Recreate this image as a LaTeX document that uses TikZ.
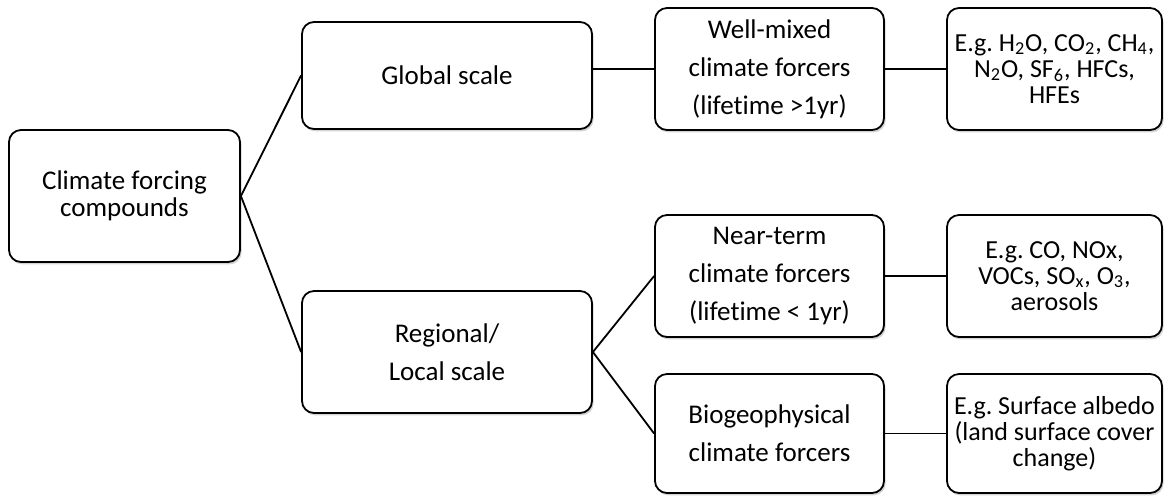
\documentclass[tikz,border=0pt]{standalone}
\usepackage{fontspec}
\setmainfont{Carlito}[Ligatures=NoCommon]
\usepackage{tikz}
\usetikzlibrary{shadows}

\begin{document}
\begin{tikzpicture}[x=0.5pt,y=-0.5pt,
		box/.style={draw, line width=0.9pt, rounded corners=6pt, fill=white, align=center,
			drop shadow={shadow xshift=0.8pt, shadow yshift=-1.2pt, opacity=0.35}, inner sep=2pt},
		wide/.style={font=\fontsize{13.5}{19}\selectfont},
		tight/.style={font=\fontsize{13.5}{13.5}\selectfont},
		small/.style={font=\fontsize{13}{13}\selectfont},
		link/.style={line width=0.9pt}]
		%\draw [help lines] (0,0) grid (1172,495);
		\useasboundingbox (0,0) rectangle (1172,495);
		\node [box, tight, minimum width=115.5pt, minimum height=66pt] (comp) at (124.5,196) {Climate forcing\\compounds};
		\node [box, wide, minimum width=145pt, minimum height=53.5pt] (glob) at (447,75.5) {Global scale};
		\node [box, wide, minimum width=145pt, minimum height=61pt] (reg) at (447,352) {Regional/\\Local scale};
		\node [box, wide, minimum width=114.5pt, minimum height=61pt] (wmix) at (769.5,69) {Well-mixed\\climate forcers\\(lifetime >1yr)};
		\node [box, wide, minimum width=114.5pt, minimum height=61pt] (near) at (769.5,276) {Near-term\\climate forcers\\(lifetime < 1yr)};
		\node [box, wide, minimum width=114.5pt, minimum height=59.5pt] (bio) at (769.5,433.5) {Biogeophysical\\climate forcers};
		\node [box, small, minimum width=107.5pt, minimum height=61pt] (ghg) at (1054.5,69) {E.g.\ H\textsubscript{2}O, CO\textsubscript{2}, CH\textsubscript{4},\\N\textsubscript{2}O, SF\textsubscript{6}, HFCs,\\HFEs};
		\node [box, small, minimum width=107.5pt, minimum height=61pt] (slcf) at (1054.5,276) {E.g.\ CO, NOx,\\VOCs, SO\textsubscript{x}, O\textsubscript{3},\\aerosols};
		\node [box, small, minimum width=107.5pt, minimum height=59.5pt] (albedo) at (1054.5,433.5) {E.g.\ Surface albedo\\(land surface cover\\change)};
		\draw [link] (comp.east) -- (glob.west);
		\draw [link] (comp.east) -- (reg.west);
		\draw [link] (wmix.west -| glob.east) -- (wmix.west);
		\draw [link] (reg.east) -- (near.west);
		\draw [link] (reg.east) -- (bio.west);
		\draw [link] (wmix.east) -- (ghg.west);
		\draw [link] (near.east) -- (slcf.west);
		\draw [link] (bio.east) -- (albedo.west);
	\end{tikzpicture}
\end{document}
